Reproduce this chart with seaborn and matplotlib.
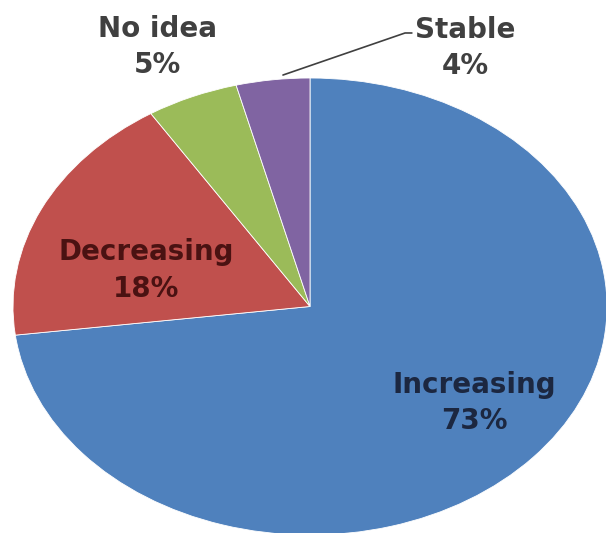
import matplotlib.pyplot as plt
import seaborn as sns

labels = ["Increasing", "Decreasing", "No idea", "Stable"]
shares = [73, 18, 5, 4]
colors = ["#4F81BD", "#C0504D", "#9BBB59", "#8064A2"]
text_colors = ["#1c2740", "#4a1212", "#404040", "#404040"]

sns.set_theme(style="white")
plt.rcParams["font.family"] = ["DejaVu Sans"]

fig = plt.figure(figsize=(6.06, 5.33), dpi=100)
# pie is stretched horizontally in the reference, so no equal aspect
ax = fig.add_axes([13 / 606, -2 / 533, 594 / 606, 457 / 533])
ax.pie(shares, colors=colors, startangle=90, counterclock=False,
       wedgeprops=dict(edgecolor="white", linewidth=0.6))
ax.set_aspect("auto")
ax.set_xlim(-1, 1)
ax.set_ylim(-1, 1)
ax.axis("off")

# label anchors in pie coords
label_pos = [(0.552, -0.421), (-0.552, 0.158), (-0.515, 1.136), (0.522, 1.132)]
for lab, val, (x, y), c in zip(labels, shares, label_pos, text_colors):
    ax.text(x, y, f"{lab}\n{val}%", ha="center", va="center", fontsize=20,
            fontweight="bold", color=c, linespacing=1.38, clip_on=False)

# leader line for Stable
ax.plot([-0.091, 0.32, 0.343], [1.013, 1.197, 1.197], color="#404040",
        lw=1.2, clip_on=False)

fig.savefig("out.png", dpi=100)
